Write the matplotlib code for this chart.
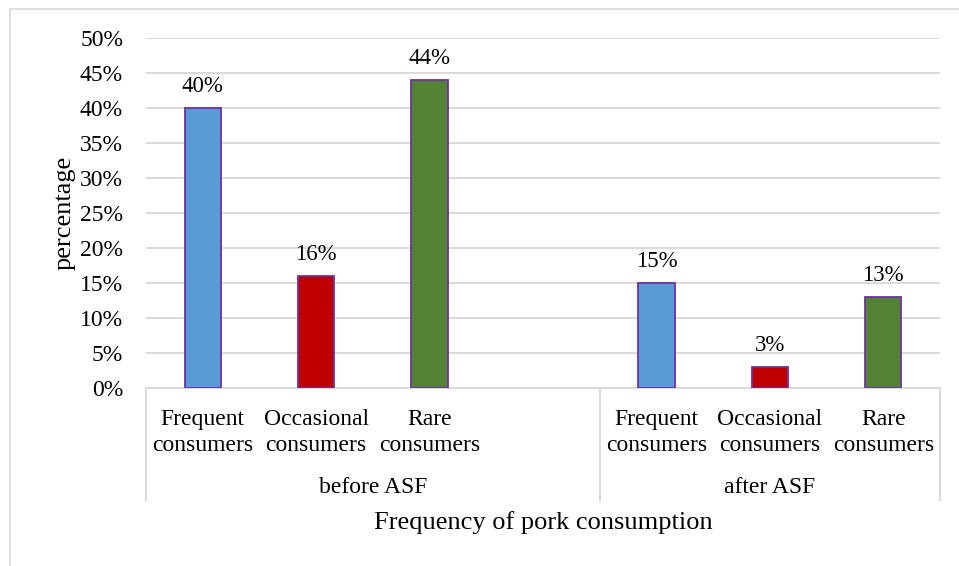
import numpy as np
import matplotlib.pyplot as plt
from matplotlib.lines import Line2D
from matplotlib.patches import Rectangle
from matplotlib.ticker import PercentFormatter

plt.rcParams['font.family'] = ['Liberation Serif', 'DejaVu Serif']

# consumption shares before and after the ASF outbreak
categories = ['Frequent\nconsumers', 'Occasional\nconsumers', 'Rare\nconsumers']
groups = ['before ASF', 'after ASF']
before_asf = [40, 16, 44]
after_asf = [15, 3, 13]
bar_colors = ['#5B9BD5', '#C00000', '#548235']

GRID_COLOR = '#D9D9D9'
EDGE_COLOR = '#7030A0'

fig = plt.figure(figsize=(9.59, 5.66), dpi=100)
ax = fig.add_axes([146/959, 1 - 388/566, (940 - 146)/959, (388 - 38)/566])

# outer chart border
fig.patches.append(Rectangle((10/959, -0.1), 1.2, 1 - 9/566 + 0.1,
                             transform=fig.transFigure, fill=False,
                             edgecolor=GRID_COLOR, linewidth=1.2))

# slots 0-2 before, slot 3 left empty, slots 4-6 after
x_before = np.arange(3)
x_after = np.arange(4, 7)
for xs, vals in [(x_before, before_asf), (x_after, after_asf)]:
    ax.bar(xs, vals, width=0.32, color=bar_colors, edgecolor=EDGE_COLOR,
           linewidth=1.3, zorder=3)
    for x, v in zip(xs, vals):
        ax.annotate('%d%%' % v, (x, v), xytext=(0, 11.5), textcoords='offset points',
                    ha='center', va='baseline', fontsize=16.5)

ax.set_xlim(-0.5, 6.5)
ax.set_ylim(0, 50)
ax.set_yticks(np.arange(0, 51, 5))
ax.yaxis.set_major_formatter(PercentFormatter(decimals=0))
ax.tick_params(axis='y', length=0, pad=16.5, labelsize=17)
ax.set_xticks([])
ax.grid(axis='y', color=GRID_COLOR, linewidth=1.4, zorder=0)
for s in ['top', 'right', 'left']:
    ax.spines[s].set_visible(False)
ax.spines['bottom'].set_color(GRID_COLOR)
ax.spines['bottom'].set_linewidth(1.4)

trans = ax.get_xaxis_transform()
for xs in [x_before, x_after]:
    for x, lab in zip(xs, categories):
        ax.text(x, -0.127, lab, transform=trans, ha='center', va='center',
                fontsize=17, linespacing=1.3)
ax.text(1.5, -0.283, groups[0], transform=trans, ha='center', va='center', fontsize=17)
ax.text(5.0, -0.283, groups[1], transform=trans, ha='center', va='center', fontsize=17)

# group separators under the axis
for x in [-0.5, 3.5, 6.5]:
    ax.add_line(Line2D([x, x], [0, -0.32], transform=trans, color=GRID_COLOR,
                       linewidth=1.4, clip_on=False))

ax.text(0.5, -0.383, 'Frequency of pork consumption', transform=ax.transAxes,
        ha='center', va='center', fontsize=19)
ax.set_ylabel('percentage', fontsize=19)
ax.yaxis.set_label_coords(-0.089, 0.5)

fig.savefig('out.png', dpi=100)
